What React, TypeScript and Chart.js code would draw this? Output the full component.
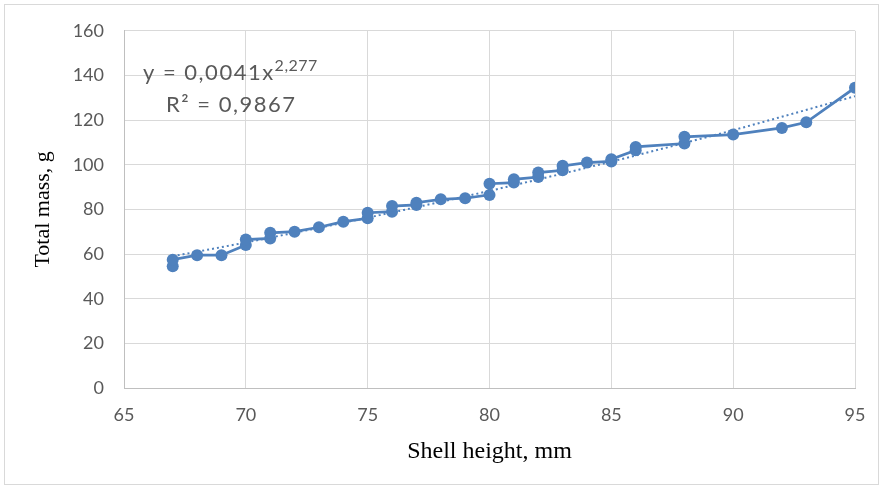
import React, { useEffect, useRef } from "react";
import { Chart, registerables } from "chart.js";

Chart.register(...registerables);

const shellHeight = [67, 67, 68, 69, 70, 70, 71, 71, 72, 73, 74, 75, 75, 76, 76, 77, 77, 78, 79, 80, 80, 81, 81, 82, 82, 83, 83, 84, 85, 85, 86, 86, 88, 88, 90, 92, 93, 95];
const totalMass = [54.5, 57.5, 59.5, 59.5, 64, 66.5, 67, 69.5, 70, 72, 74.5, 76, 78.5, 79, 81.5, 82, 83, 84.5, 85, 86.5, 91.5, 92, 93.5, 94.5, 96.5, 97.5, 99.5, 101, 101.5, 102.5, 106.5, 108, 109.5, 112.5, 113.5, 116.5, 119, 134.5];

// Power trend line (y = 0,0041x^2,277)
const trendX = [67, 70, 75, 80, 85, 90, 95];
const trendY = [59.0, 65.2, 76.3, 88.3, 101.4, 115.5, 130.7];

const xTicks = [65, 70, 75, 80, 85, 90, 95];
const yTicks = [0, 20, 40, 60, 80, 100, 120, 140, 160];

const equationMain = "y = 0,0041x";
const equationExp = "2,277";
const rSquared = "R² = 0,9867";
const xTitle = "Shell height, mm";
const yTitle = "Total mass, g";

const BLUE = "#4F81BD";
const TEXT = "#595959";

export default function App() {
  const ref = useRef<HTMLCanvasElement | null>(null);

  useEffect(() => {
    if (!ref.current) return;
    const eqPlugin = {
      id: "eq",
      afterDatasetsDraw(chart: any) {
        const ctx = chart.ctx;
        ctx.save();
        ctx.fillStyle = TEXT;
        ctx.textBaseline = "alphabetic";
        ctx.font = "22px Lato";
        (ctx as any).letterSpacing = "1.5px";
        ctx.fillText(equationMain, 143, 80);
        const w = ctx.measureText(equationMain).width;
        ctx.font = "16px Lato";
        (ctx as any).letterSpacing = "0.5px";
        ctx.fillText(equationExp, 143 + w, 71);
        ctx.font = "22px Lato";
        (ctx as any).letterSpacing = "1.5px";
        ctx.fillText(rSquared, 166, 112);
        ctx.restore();
      },
    };
    const chart = new Chart(ref.current, {
      type: "scatter",
      data: {
        datasets: [
          {
            label: "data",
            data: shellHeight.map((x, i) => ({ x, y: totalMass[i] })),
            showLine: true,
            borderColor: BLUE,
            backgroundColor: BLUE,
            borderWidth: 2.75,
            pointRadius: 6,
            pointBorderWidth: 0,
            pointHoverRadius: 6,
          },
          {
            label: "trend",
            data: trendX.map((x, i) => ({ x, y: trendY[i] })),
            showLine: true,
            borderColor: BLUE,
            borderWidth: 2,
            borderDash: [2, 3],
            pointRadius: 0,
            cubicInterpolationMode: "monotone",
          } as any,
        ],
      },
      options: {
        animation: false,
        responsive: false,
        maintainAspectRatio: false,
        layout: { padding: { top: 29, right: 29, left: 0, bottom: 0 } },
        plugins: { legend: { display: false }, tooltip: { enabled: false } },
        scales: {
          x: {
            type: "linear",
            min: 65,
            max: 95,
            afterBuildTicks: (s: any) => {
              s.ticks = xTicks.map((v) => ({ value: v }));
            },
            afterFit: (s: any) => {
              s.height = 100;
            },
            grid: { color: "#d9d9d9", lineWidth: 1, drawTicks: false },
            border: { color: "#bfbfbf", width: 1 },
            ticks: { color: TEXT, font: { family: "Lato", size: 18 }, padding: 16 },
            title: {
              display: true,
              text: xTitle,
              color: "#000",
              font: { family: "Liberation Serif", size: 24 },
              padding: { bottom: 22, top: 0 },
            },
          },
          y: {
            type: "linear",
            min: 0,
            max: 160,
            afterBuildTicks: (s: any) => {
              s.ticks = yTicks.map((v) => ({ value: v }));
            },
            afterFit: (s: any) => {
              s.width = 124;
            },
            grid: { color: "#d9d9d9", lineWidth: 1, drawTicks: false },
            border: { color: "#bfbfbf", width: 1 },
            ticks: { color: TEXT, font: { family: "Lato", size: 18 }, padding: 20 },
            title: {
              display: true,
              text: yTitle,
              color: "#000",
              font: { family: "Liberation Serif", size: 22 },
              padding: { top: 30, bottom: 0 },
            },
          },
        },
      },
      plugins: [eqPlugin],
    });
    return () => chart.destroy();
  }, []);

  return (
    <div style={{ position: "fixed", left: 0, top: 0, width: 884, height: 488, background: "#fff" }}>
      <div
        style={{
          position: "absolute",
          left: 4,
          top: 4,
          width: 875,
          height: 481,
          border: "1px solid #d9d9d9",
          boxSizing: "border-box",
        }}
      />
      <canvas ref={ref} width={884} height={488} style={{ position: "absolute", left: 0, top: 0 }} />
    </div>
  );
}
